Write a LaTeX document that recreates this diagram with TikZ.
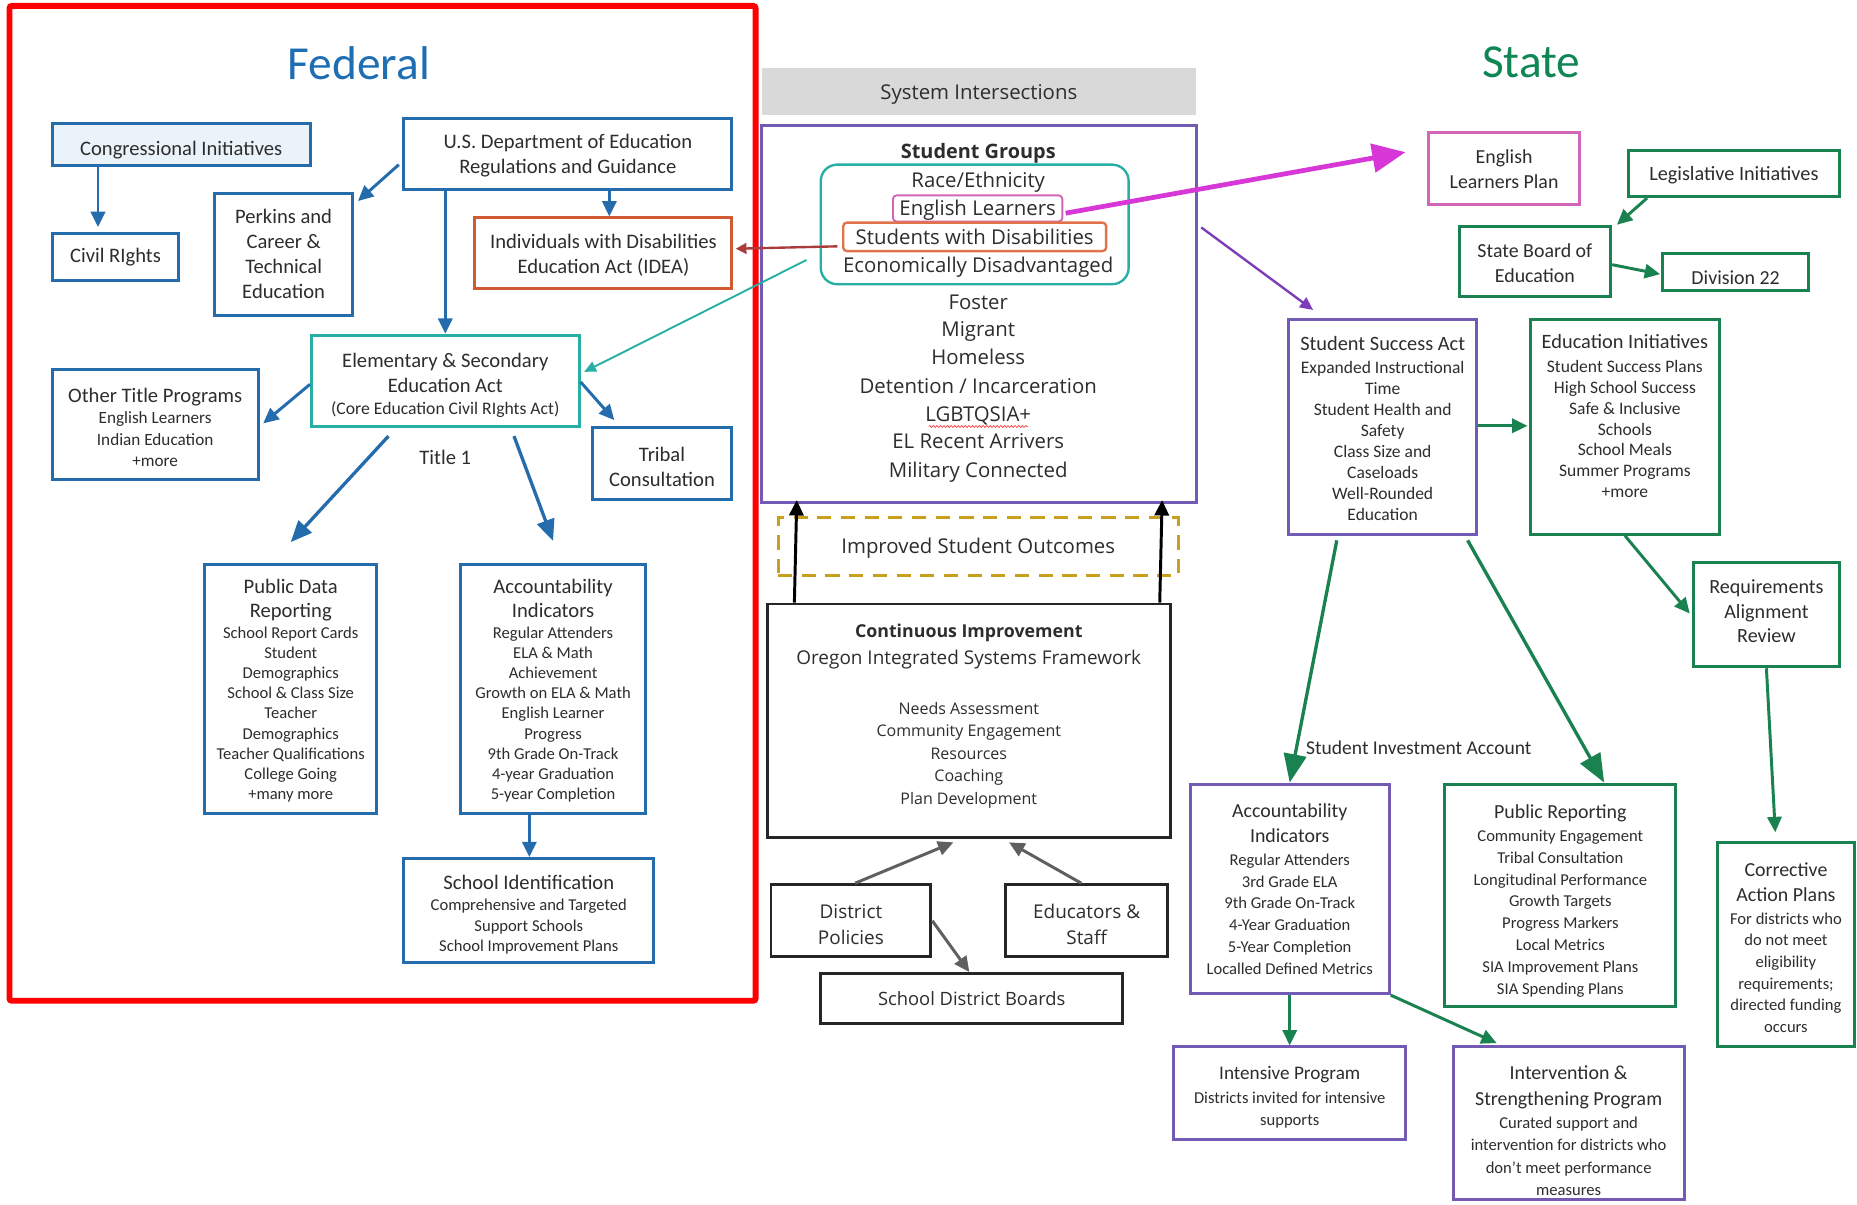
\documentclass[tikz,border=0pt]{standalone}
\usepackage{fontspec}
\setmainfont{Carlito}
\newfontfamily\osans{Open Sans}
\usetikzlibrary{arrows.meta,calc,decorations.pathmorphing}

\definecolor{fedblue}{RGB}{36,108,172}
\definecolor{fedlight}{RGB}{234,243,250}
\definecolor{fedtitle}{RGB}{30,110,180}
\definecolor{tealc}{RGB}{40,175,165}
\definecolor{ideaorange}{RGB}{210,90,50}
\definecolor{swdorange}{RGB}{225,115,75}
\definecolor{pinkc}{RGB}{210,100,185}
\definecolor{magc}{RGB}{215,55,215}
\definecolor{spurple}{RGB}{115,90,180}
\definecolor{purarrc}{RGB}{125,60,185}
\definecolor{sgreen}{RGB}{25,130,80}
\definecolor{stitle}{RGB}{15,135,85}
\definecolor{goldc}{RGB}{200,160,30}
\definecolor{bandgray}{RGB}{217,217,217}
\definecolor{darkredc}{RGB}{170,60,60}
\definecolor{txt}{RGB}{45,45,45}
\definecolor{grayarrc}{RGB}{95,95,95}

\newcommand{\FontT}{\fontsize{17.4}{21}\selectfont}
\newcommand{\FontS}{\fontsize{14}{17}\selectfont}
\newcommand{\FontSS}{\fontsize{14.5}{18}\selectfont}
\newcommand{\FontST}{\fontsize{16.8}{21}\selectfont}
\newcommand{\FontSB}{\fontsize{17.2}{21}\selectfont}
\newcommand{\FontC}{\osans\fontsize{17.2}{20}\selectfont}
\newcommand{\FontCs}{\osans\fontsize{13.5}{19}\selectfont}
\newcommand{\TopPad}[1]{\rule{0pt}{#1}}

\begin{document}
\begin{tikzpicture}[x=1pt,y=-1pt,
  box/.style={draw, line width=2.5pt, align=center, inner sep=1pt, text=txt},
  fedbox/.style={box, draw=fedblue},
  grnbox/.style={box, draw=sgreen},
  purbox/.style={box, draw=spurple},
  blkbox/.style={box, draw=black!85},
  sz/.style 2 args={minimum width=#1, minimum height=#2},
  plain/.style={text=txt, inner sep=1pt},
  cline/.style={plain, font=\FontC, text height=12.2pt, text depth=0pt},
  fedarr/.style={draw=fedblue, line width=2.5pt, -{Triangle[length=13pt,width=12pt]}},
  bigfed/.style={draw=fedblue, line width=2.8pt, -{Triangle[length=18pt,width=15pt]}},
  grnarr/.style={draw=sgreen, line width=2.5pt, -{Triangle[length=13pt,width=12pt]}},
  biggrn/.style={draw=sgreen, line width=2.8pt, -{Triangle[length=24pt,width=19pt]}},
  grayarr/.style={draw=grayarrc, line width=2.5pt, -{Triangle[length=13pt,width=12pt]}},
  blkarr/.style={draw=black, line width=2.5pt, -{Triangle[length=13pt,width=12pt]}},
  redarr/.style={draw=darkredc, line width=2pt, -{Triangle[length=9pt,width=9pt]}},
  tealarr/.style={draw=tealc, line width=1.6pt, -{Triangle[length=10pt,width=9pt]}},
  magarr/.style={draw=magc, line width=4pt, -{Triangle[length=28pt,width=24pt]}},
  purarr/.style={draw=purarrc, line width=2pt, -{Triangle[length=11pt,width=10pt]}}
]
\useasboundingbox (0,0) rectangle (1568,1017);
\fill[white] (0,0) rectangle (1568,1017);

% ---------------- Federal ----------------
\draw[red, line width=5pt, rounded corners=2pt] (8,5) rectangle (638,845);
\node[font=\fontsize{40}{42}\selectfont, text=fedtitle] (fedtitle) at (303,53) {Federal};

\node[fedbox, fill=fedlight, sz={218}{36}, font=\FontT, text height=19pt, text depth=0pt] (cong) at (153,122) {Congressional Initiatives};
\node[fedbox, sz={107}{40}, font=\FontT] (civil) at (97.5,217) {Civil RIghts};
\node[fedbox, sz={277}{60}, font=\FontT, text depth=0pt] (usdoe) at (479.5,130) {U.S. Department of Education\\Regulations and Guidance};
\node[fedbox, sz={117}{103}, font=\FontT] (perkins) at (239.5,214.5) {Perkins and\\Career \&\\Technical\\Education};
\node[box, draw=ideaorange, sz={217}{60}, font=\FontT, text depth=0pt] (idea) at (509.5,214) {Individuals with Disabilities\\Education Act (IDEA)};
\node[box, draw=tealc, sz={226}{77}, font=\FontT, text depth=0pt] (esea) at (376,321.5) {\TopPad{17pt}Elementary \& Secondary\\Education Act\\[-2pt]{\fontsize{14.9}{17}\selectfont (Core Education Civil RIghts Act)}};
\node[fedbox, sz={174}{93}, font=\FontSS, text depth=0pt] (other) at (131,358.5) {{\FontT\TopPad{17pt}Other Title Programs}\\English Learners\\Indian Education\\+more};
\node[fedbox, sz={118}{61}, font=\FontT] (tribal) at (559,391.5) {\TopPad{17pt}Tribal\\Consultation};
\node[plain, font=\FontT] (title1) at (376,386) {Title 1};

\node[fedbox, sz={145}{210}, font=\FontS, text depth=0pt] (pubdata) at (245.5,582) {{\FontT Public Data}\\[3pt]{\FontT Reporting}\\[1pt]School Report Cards\\Student\\Demographics\\School \& Class Size\\Teacher\\Demographics\\Teacher Qualifications\\College Going\\+many more};
\node[fedbox, sz={156}{210}, font=\FontS, text depth=0pt] (acc) at (467,582) {{\FontT Accountability}\\[3pt]{\FontT Indicators}\\[1pt]Regular Attenders\\ELA \& Math\\Achievement\\Growth on ELA \& Math\\English Learner\\Progress\\9th Grade On-Track\\4-year Graduation\\5-year Completion};
\node[fedbox, sz={211}{88}, font=\fontsize{14}{17.5}\selectfont, text depth=0pt] (schid) at (446.5,769) {{\FontT\TopPad{17pt}School Identification}\\Comprehensive and Targeted\\Support Schools\\School Improvement Plans};

\draw[fedarr] ($(cong.south west)+(40,0)$) -- ($(civil.north west)+(40,-4)$);
\draw[fedarr] ($(usdoe.west)+(-3,9)$) -- ($(perkins.north east)+(3,8)$);
\draw[fedarr] (usdoe.south -| esea.north) -- (esea.north);
\draw[fedarr] ($(usdoe.south)+(35,0)$) -- ($(idea.north)+(5,0)$);
\draw[fedarr] ($(esea.west)+(0,3)$) -- ($(other.east)+(3,-1)$);
\draw[fedarr] ($(esea.east)+(0,1)$) -- ($(tribal.north west)+(20,-5)$);
\draw[bigfed] ($(esea.south)+(-48,7)$) -- ($(pubdata.north)+(0,-18)$);
\draw[bigfed] ($(esea.south)+(58,7)$) -- ($(acc.north)+(0,-19)$);
\draw[fedarr] ($(acc.south)+(-20,0)$) -- ($(schid.north)+(0.5,0)$);

% ---------------- Centre ----------------
\node[fill=bandgray, sz={367}{40}, text=txt, font=\osans\fontsize{17.2}{20}\selectfont, text height=14.2pt, text depth=0pt] (sysint) at (826.5,77) {System Intersections};
\node[box, draw=spurple, sz={367}{318}] (sg) at (826.5,265) {};
\node[draw=tealc, line width=2pt, rounded corners=14pt, sz={260}{101}] (grp) at (823,189.5) {};
\node[cline, font=\osans\bfseries\fontsize{16.8}{20}\selectfont] (sgtitle) at (826,128) {Student Groups};
\node[cline] (race) at (826,152) {Race/Ethnicity};
\node[draw=pinkc, line width=1.6pt, rounded corners=3pt, sz={143}{22}, inner sep=0pt, text height=13.2pt, text depth=1pt, text=txt, font=\FontC] (el) at (825.5,176) {English Learners};
\node[draw=swdorange, line width=2pt, rounded corners=3pt, sz={222}{24}, inner sep=0pt, text height=13.2pt, text depth=1pt, text=txt, font=\FontC] (swd) at (823,200) {Students with Disabilities};
\node[cline] (econ) at (826,224) {Economically Disadvantaged};
\node[cline] (foster) at (826,255) {Foster};
\node[cline] (migrant) at (826,278) {Migrant};
\node[cline] (homeless) at (826,302) {Homeless};
\node[cline] (detention) at (826,326) {Detention / Incarceration};
\node[cline] (lgbt) at (826,350) {LGBTQSIA+};
\node[cline] (elra) at (826,373) {EL Recent Arrivers};
\node[cline] (mil) at (826,397) {Military Connected};
\draw[red!75, line width=0.6pt, decorate, decoration={snake, amplitude=0.8pt, segment length=3pt}] ($(lgbt.base west)+(4,4)$) -- ($(lgbt.base east)+(-4,4)$);

\node[draw=goldc, line width=2.5pt, dash pattern=on 12pt off 8pt, sz={338}{49}, text=txt, font=\FontC, text height=12.2pt, text depth=0pt] (iso) at (826,461.5) {Improved Student Outcomes};

\node[blkbox, sz={340}{197}] (ci) at (818,608.5) {};
\node[plain, align=center, font=\osans\fontsize{16}{19}\selectfont] (citxt) at (818,604.5) {{\bfseries\fontsize{15}{19}\selectfont Continuous Improvement}\\[4pt]Oregon Integrated Systems Framework\\[23pt]{\FontCs Needs Assessment}\\{\FontCs Community Engagement}\\{\FontCs Resources}\\{\FontCs Coaching}\\{\FontCs Plan Development}};

\node[blkbox, sz={135}{61}, font=\osans\fontsize{16}{22}\selectfont] (dp) at (718.5,777.5) {\TopPad{18.2pt}District\\Policies};
\node[blkbox, sz={137}{61}, font=\osans\fontsize{16}{22}\selectfont] (es) at (917.5,777.5) {\TopPad{18.2pt}Educators \&\\Staff};
\node[blkbox, sz={255}{42}, font=\osans\fontsize{15.5}{20}\selectfont] (sdb) at (820.5,843) {School District Boards};

\draw[redarr] ($(swd.west)+(-4,8)$) -- ($(idea.east)+(2,-4)$);
\draw[tealarr] ($(grp.west)+(-11,30)$) -- ($(esea.east)+(3,-7.5)$);
\draw[blkarr] ($(ci.north west)+(24,0)$) -- ($(sg.south west)+(31,-3)$);
\draw[blkarr] ($(ci.north east)+(-10,0)$) -- ($(sg.south east)+(-30,-3)$);
\draw[grayarr] ($(dp.north)+(3.5,0)$) -- ($(ci.south)+(-13,3)$);
\draw[grayarr] ($(es.north)+(-4.5,0)$) -- ($(ci.south)+(34,3)$);
\draw[grayarr] (dp.east) -- ($(sdb.north)+(-2,0)$);

% ---------------- State ----------------
\node[font=\fontsize{40}{42}\selectfont, text=stitle] (statetitle) at (1293,53) {State};
\node[box, draw=pinkc, sz={128}{61}, font=\FontST] (elp) at (1270,142.5) {English\\Learners Plan};
\node[grnbox, sz={178}{39}, font=\fontsize{17.1}{21}\selectfont, text depth=0pt] (legis) at (1464,146.5) {Legislative Initiatives};
\node[grnbox, sz={128}{59}, font=\FontST] (sbe) at (1296,220.5) {\TopPad{14.8pt}State Board of\\Education};
\node[grnbox, sz={123}{31}, font=\FontST, text height=22pt, text depth=0pt] (div22) at (1465.5,229.5) {Division 22};
\node[purbox, sz={159}{181}, font=\fontsize{14.8}{17.7}\selectfont] (ssa) at (1167.5,360.5) {{\FontSB\TopPad{14.6pt}Student Success Act}\\[2pt]Expanded Instructional\\Time\\Student Health and\\Safety\\Class Size and\\Caseloads\\Well-Rounded\\Education};
\node[grnbox, sz={160}{181}, font=\fontsize{14.8}{17.7}\selectfont, text depth=18pt] (ei) at (1372,360.5) {{\FontSB Education Initiatives}\\[2pt]Student Success Plans\\High School Success\\Safe \& Inclusive\\Schools\\School Meals\\Summer Programs\\+more};
\node[grnbox, sz={123}{88}, font=\fontsize{17}{20.5}\selectfont, text depth=6pt] (rar) at (1491.5,519) {Requirements\\Alignment\\Review};
\node[grnbox, sz={116}{173}, font=\fontsize{14}{18.3}\selectfont] (cap) at (1508,797.5) {{\FontST\TopPad{16.6pt}Corrective}\\[3pt]{\FontST Action Plans}\\[1pt]For districts who\\do not meet\\eligibility\\requirements;\\directed funding\\occurs};
\node[purbox, sz={168}{177}, font=\fontsize{14}{18.4}\selectfont] (sai) at (1089,750.5) {{\FontST Accountability}\\[3pt]{\FontST Indicators}\\[1pt]Regular Attenders\\3rd Grade ELA\\9th Grade On-Track\\4-Year Graduation\\5-Year Completion\\Localled Defined Metrics};
\node[grnbox, sz={195}{188}, font=\fontsize{14}{18.5}\selectfont, text depth=0pt] (pr) at (1317.5,756) {{\FontST\TopPad{18.6pt}Public Reporting}\\[1pt]Community Engagement\\Tribal Consultation\\Longitudinal Performance\\Growth Targets\\Progress Markers\\Local Metrics\\SIA Improvement Plans\\SIA Spending Plans};
\node[purbox, sz={196}{78}, font=\fontsize{14}{19}\selectfont, text depth=0pt] (ip) at (1089,923) {{\fontsize{16.2}{20}\selectfont\TopPad{16.2pt}Intensive Program}\\[1pt]Districts invited for intensive\\supports};
\node[purbox, sz={195}{129}, font=\fontsize{14}{19}\selectfont] (isp) at (1324.5,948.5) {{\FontST\TopPad{24.6pt}Intervention \&}\\[3pt]{\FontST Strengthening Program}\\Curated support and\\intervention for districts who\\don't meet performance\\measures};
\node[plain, font=\fontsize{16.5}{20}\selectfont] (sia) at (1198,631) {Student Investment Account};

\draw[magarr] ($(el.east)+(2,4)$) -- ($(elp.west)+(-18,-14)$);
\draw[purarr] ($(sg.east)+(3,-73)$) -- ($(ssa.north west)+(22,-7)$);
\draw[grnarr] ($(legis.south west)+(17,0)$) -- ($(sbe.north east)+(4,0)$);
\draw[grnarr] ($(sbe.east)+(0,3)$) -- ($(div22.west)+(-1,2)$);
\draw[grnarr] ($(ssa.east)+(0,-1)$) -- ($(ei.west)+(-1,-1)$);
\draw[grnarr] (ei.south) -- ($(rar.west)+(-2,-1)$);
\draw[grnarr] (rar.south) -- ($(cap.north)+(-9,-7)$);
\draw[biggrn] ($(ssa.south west)+(42,4)$) -- (sai.north);
\draw[biggrn] ($(ssa.south east)+(-9,4)$) -- ($(pr.north)+(37,0)$);
\draw[grnarr] (sai.south) -- (ip.north);
\draw[grnarr] (sai.south east) -- ($(isp.north west)+(38,-2)$);
\end{tikzpicture}
\end{document}
